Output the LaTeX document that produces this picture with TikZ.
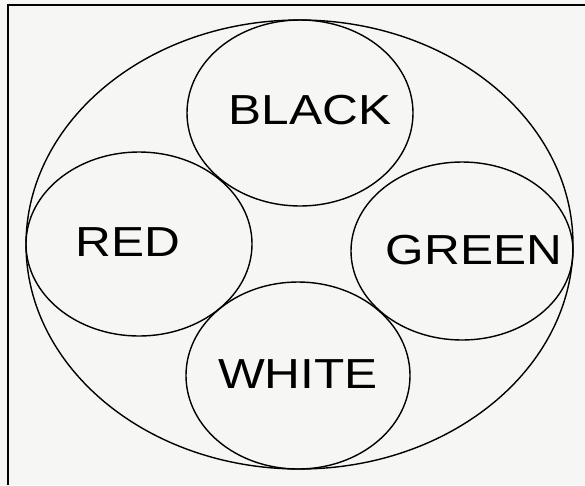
\documentclass[tikz,border=0pt]{standalone}
\usepackage{fontspec}
\setmainfont{Liberation Sans}
\definecolor{paper}{RGB}{246,246,244}
\begin{document}
\begin{tikzpicture}[x=1pt,y=-1pt]
\tikzstyle{ring} = [line width=1.4pt, black]
\tikzstyle{word} = [font=\fontsize{42}{42}\selectfont, inner sep=0pt, transform shape, xscale=1.18]

\fill[paper] (0,0) rectangle (585,485);
\useasboundingbox (0,0) rectangle (585,485);

% frame, cut off at right and bottom
\coordinate (fbl) at (8,485);
\coordinate (ftl) at (8,5);
\coordinate (ftr) at (585,5);
\draw[line width=1.5pt] (fbl) -- (ftl) -- (ftr);

\draw[ring] (299.5,244.5) ellipse (273.5 and 224.5);

\draw[ring] (300,113) ellipse (113 and 93);
\draw[ring] (139,244) ellipse (113 and 92);
\draw[ring] (462,251) ellipse (111 and 89);
\draw[ring] (298,375.5) ellipse (112 and 93.5);

\node[word] (black) at (310,110) {BLACK};
\node[word] (red) at (128,242) {RED};
\node[word] (green) at (474,250) {GREEN};
\node[word] (white) at (298,374) {WHITE};

\end{tikzpicture}
\end{document}
